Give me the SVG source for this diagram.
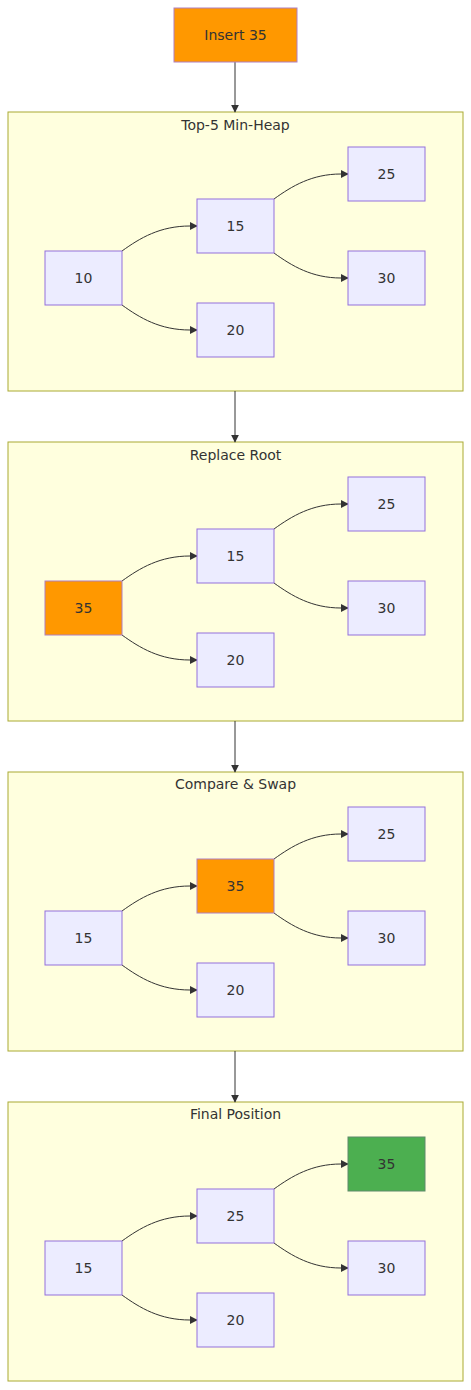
<svg xmlns="http://www.w3.org/2000/svg" width="471" height="1390" viewBox="0 0 471 1390">
<style>
text{font-family:"DejaVu Sans","Liberation Sans",sans-serif;font-size:14px;fill:#333;text-anchor:middle;dominant-baseline:central}
.cl{fill:#ffffde;stroke:#aaaa33;stroke-width:1}
.n{fill:#ececff;stroke:#9370db;stroke-width:1}
.o{fill:#ff9800;stroke:#b07fc0;stroke-width:1}
.g{fill:#4caf50;stroke:#5f8a6a;stroke-width:1}
.e{fill:none;stroke:#333;stroke-width:1;marker-end:url(#arr)}
</style>
<defs>
<marker id="arr" viewBox="0 0 10 10" refX="9" refY="5" markerWidth="8" markerHeight="8" orient="auto" markerUnits="userSpaceOnUse"><path d="M0,0L10,5L0,10z" fill="#333"/></marker>
<g id="tree">
<path class="e" d="M122,251C140,238 160,226 190,226L197,226"/>
<path class="e" d="M122,305C140,318 160,330 190,330L197,330"/>
<path class="e" d="M274,199C292,186 312,174 341,174L348,174"/>
<path class="e" d="M274,253C292,266 312,278 341,278L348,278"/>
</g>
</defs>
<g id="clusters">
<g id="c1"><rect class="cl" x="8" y="112" width="455" height="279"/><text x="235.5" y="125">Top-5 Min-Heap</text></g>
<g id="c2"><rect class="cl" x="8" y="442" width="455" height="279"/><text x="235.5" y="455">Replace Root</text></g>
<g id="c3"><rect class="cl" x="8" y="772" width="455" height="279"/><text x="235.5" y="784">Compare &amp; Swap</text></g>
<g id="c4"><rect class="cl" x="8" y="1102" width="455" height="279"/><text x="235.5" y="1114">Final Position</text></g>
</g>
<g id="connectors">
<path class="e" d="M235,62L235,112"/>
<path class="e" d="M235,391L235,442"/>
<path class="e" d="M235,721L235,772"/>
<path class="e" d="M235,1051L235,1102"/>
<use href="#tree"/>
<use href="#tree" y="330"/>
<use href="#tree" y="660"/>
<use href="#tree" y="990"/>
</g>
<g id="insert"><rect class="o" x="174" y="8" width="123" height="54"/><text x="235.5" y="35">Insert 35</text></g>
<g id="h1">
<g id="h1-a"><rect class="n" x="45" y="251" width="77" height="54"/><text x="83.5" y="278">10</text></g>
<g id="h1-b"><rect class="n" x="197" y="199" width="77" height="54"/><text x="235.5" y="226">15</text></g>
<g id="h1-c"><rect class="n" x="197" y="303" width="77" height="54"/><text x="235.5" y="330">20</text></g>
<g id="h1-d"><rect class="n" x="348" y="147" width="77" height="54"/><text x="386.5" y="174">25</text></g>
<g id="h1-e"><rect class="n" x="348" y="251" width="77" height="54"/><text x="386.5" y="278">30</text></g>
</g>
<g id="h2">
<g id="h2-a"><rect class="o" x="45" y="581" width="77" height="54"/><text x="83.5" y="608">35</text></g>
<g id="h2-b"><rect class="n" x="197" y="529" width="77" height="54"/><text x="235.5" y="556">15</text></g>
<g id="h2-c"><rect class="n" x="197" y="633" width="77" height="54"/><text x="235.5" y="660">20</text></g>
<g id="h2-d"><rect class="n" x="348" y="477" width="77" height="54"/><text x="386.5" y="504">25</text></g>
<g id="h2-e"><rect class="n" x="348" y="581" width="77" height="54"/><text x="386.5" y="608">30</text></g>
</g>
<g id="h3">
<g id="h3-a"><rect class="n" x="45" y="911" width="77" height="54"/><text x="83.5" y="938">15</text></g>
<g id="h3-b"><rect class="o" x="197" y="859" width="77" height="54"/><text x="235.5" y="886">35</text></g>
<g id="h3-c"><rect class="n" x="197" y="963" width="77" height="54"/><text x="235.5" y="990">20</text></g>
<g id="h3-d"><rect class="n" x="348" y="807" width="77" height="54"/><text x="386.5" y="834">25</text></g>
<g id="h3-e"><rect class="n" x="348" y="911" width="77" height="54"/><text x="386.5" y="938">30</text></g>
</g>
<g id="h4">
<g id="h4-a"><rect class="n" x="45" y="1241" width="77" height="54"/><text x="83.5" y="1268">15</text></g>
<g id="h4-b"><rect class="n" x="197" y="1189" width="77" height="54"/><text x="235.5" y="1216">25</text></g>
<g id="h4-c"><rect class="n" x="197" y="1293" width="77" height="54"/><text x="235.5" y="1320">20</text></g>
<g id="h4-d"><rect class="g" x="348" y="1137" width="77" height="54"/><text x="386.5" y="1164">35</text></g>
<g id="h4-e"><rect class="n" x="348" y="1241" width="77" height="54"/><text x="386.5" y="1268">30</text></g>
</g>
</svg>
